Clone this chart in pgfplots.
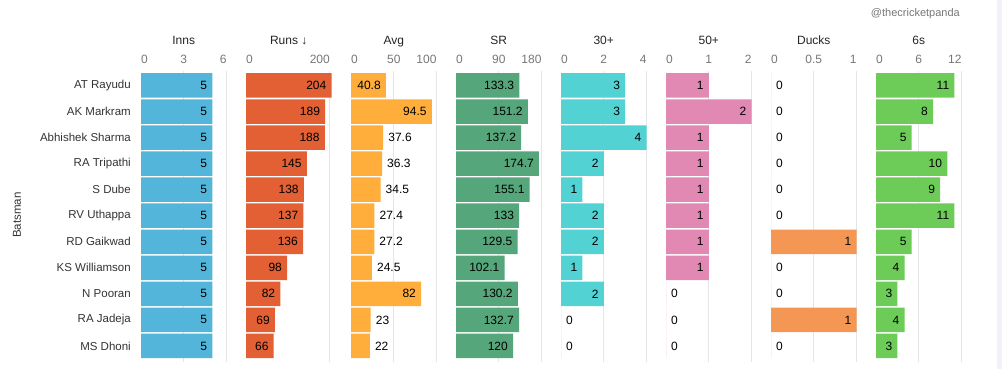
\documentclass[border=0pt]{standalone}
\usepackage{pgfplots}
\pgfplotsset{compat=1.18}
\usepackage{fontspec}
\setmainfont{Liberation Sans}
\definecolor{cInns}{RGB}{83,181,217}
\definecolor{cRuns}{RGB}{226,96,52}
\definecolor{cAvg}{RGB}{255,173,59}
\definecolor{cSR}{RGB}{85,166,122}
\definecolor{cThirty}{RGB}{82,210,210}
\definecolor{cFifty}{RGB}{225,137,179}
\definecolor{cDucks}{RGB}{244,150,84}
\definecolor{cSix}{RGB}{108,204,87}
\definecolor{tickgray}{RGB}{118,118,118}
\definecolor{titlecol}{RGB}{37,36,35}
\definecolor{namecol}{RGB}{51,51,51}
\definecolor{gridgray}{RGB}{228,231,234}
\definecolor{bandgray}{RGB}{240,242,245}
\pgfplotsset{
  panel/.style={
    xbar, bar shift=0pt, bar width=0.94,
    scale only axis, width=85.5pt, height=291.2pt,
    at={(#1pt,298.1pt)}, anchor=north west,
    y dir=reverse, ymin=-0.56, ymax=10.62, ytick=\empty,
    xmin=0, axis line style={draw=none}, major tick length=0pt, minor tick length=0pt,
    xticklabel pos=upper,
    xticklabel style={font=\fontsize{12}{14}\selectfont, text=tickgray, anchor=base, inner sep=0pt, yshift=7.6pt},
    xminorgrids, minor grid style={gridgray, line width=0.8pt},
    title style={at={(0.5,1)}, anchor=base, yshift=20.6pt, font=\fontsize{12}{14}\selectfont, text=titlecol, inner sep=0pt},
    /pgf/number format/assume math mode=true,
    point meta=x,
    clip=false,
  },
  inl/.style={fill=#1, draw=none, nodes near coords,
    every node near coord/.append style={anchor=east, xshift=-5pt, inner sep=0pt, font=\fontsize{12}{14}\selectfont, text=black}},
  outl/.style={fill=#1, draw=none, nodes near coords,
    every node near coord/.append style={anchor=west, xshift=5pt, inner sep=0pt, font=\fontsize{12}{14}\selectfont, text=black}},
}
\begin{document}
\begin{tikzpicture}
\useasboundingbox (0pt,0pt) rectangle (1002pt,369pt);
\fill[bandgray] (997pt,0pt) rectangle (1002pt,369pt);
\node[anchor=base east, inner sep=0pt, font=\fontsize{11}{13}\selectfont, text=tickgray] at (960pt,352pt) {@thecricketpanda};
\node[rotate=90, inner sep=0pt, font=\fontsize{11.5}{13}\selectfont, text=namecol] at (17pt,154pt) {Batsman};

% Inns
\begin{axis}[panel=141, title={Inns}, xmax=6, xtick={0,3,6},
  xticklabels={\makebox[0pt][l]{0},3,\makebox[0pt][r]{6}}, minor xtick={3,6},
  ytick={0,1,2,3,4,5,6,7,8,9,10},
  yticklabels={AT Rayudu,AK Markram,Abhishek Sharma,RA Tripathi,S Dube,RV Uthappa,RD Gaikwad,KS Williamson,N Pooran,RA Jadeja,MS Dhoni},
  yticklabel style={font=\fontsize{11.5}{13}\selectfont, text=namecol, anchor=east, inner sep=0pt, xshift=-10pt}]
\addplot[inl=cInns] coordinates {(5,0) (5,1) (5,2) (5,3) (5,4) (5,5) (5,6) (5,7) (5,8) (5,9) (5,10)};
\end{axis}

% Runs
\begin{axis}[panel=246, title={Runs ↓}, xmax=204, xtick={0,200},
  xticklabels={\makebox[0pt][l]{0},\makebox[0pt][r]{200}}, minor xtick={200}]
\addplot[inl=cRuns] coordinates {(204,0) (189,1) (188,2) (145,3) (138,4) (137,5) (136,6) (98,7) (82,8) (69,9) (66,10)};
\end{axis}

% Avg
\begin{axis}[panel=351, title={Avg}, xmax=100, xtick={0,50,100},
  xticklabels={\makebox[0pt][l]{0},50,\makebox[0pt][r]{100}}, minor xtick={50,100}]
\addplot[inl=cAvg] coordinates {(40.8,0) (94.5,1) (82,8)};
\addplot[outl=cAvg] coordinates {(37.6,2) (36.3,3) (34.5,4) (27.4,5) (27.2,6) (24.5,7) (23,9) (22,10)};
\end{axis}

% SR
\begin{axis}[panel=456, title={SR}, xmax=180, xtick={0,90,180},
  xticklabels={\makebox[0pt][l]{0},90,\makebox[0pt][r]{180}}, minor xtick={90,180}]
\addplot[inl=cSR] coordinates {(133.3,0) (151.2,1) (137.2,2) (174.7,3) (155.1,4) (133,5) (129.5,6) (102.1,7) (130.2,8) (132.7,9) (120,10)};
\end{axis}

% 30+
\begin{axis}[panel=561, title={30+}, xmax=4, xtick={0,2,4},
  xticklabels={\makebox[0pt][l]{0},2,\makebox[0pt][r]{4}}, minor xtick={2,4}]
\addplot[inl=cThirty] coordinates {(3,0) (3,1) (4,2) (2,3) (1,4) (2,5) (2,6) (1,7) (2,8)};
\addplot[outl=cThirty] coordinates {(0,9) (0,10)};
\end{axis}

% 50+
\begin{axis}[panel=666, title={50+}, xmax=2, xtick={0,1,2},
  xticklabels={\makebox[0pt][l]{0},1,\makebox[0pt][r]{2}}, minor xtick={1,2}]
\addplot[inl=cFifty] coordinates {(1,0) (2,1) (1,2) (1,3) (1,4) (1,5) (1,6) (1,7)};
\addplot[outl=cFifty] coordinates {(0,8) (0,9) (0,10)};
\end{axis}

% Ducks
\begin{axis}[panel=771, title={Ducks}, xmax=1, xtick={0,0.5,1},
  xticklabels={\makebox[0pt][l]{0},0.5,\makebox[0pt][r]{1}}, minor xtick={0.5,1}]
\addplot[inl=cDucks] coordinates {(1,6) (1,9)};
\addplot[outl=cDucks] coordinates {(0,0) (0,1) (0,2) (0,3) (0,4) (0,5) (0,7) (0,8) (0,10)};
\end{axis}

% 6s
\begin{axis}[panel=876, title={6s}, xmax=12, xtick={0,6,12},
  xticklabels={\makebox[0pt][l]{0},6,\makebox[0pt][r]{12}}, minor xtick={6,12}]
\addplot[inl=cSix] coordinates {(11,0) (8,1) (5,2) (10,3) (9,4) (11,5) (5,6) (4,7) (3,8) (4,9) (3,10)};
\end{axis}
\end{tikzpicture}
\end{document}
